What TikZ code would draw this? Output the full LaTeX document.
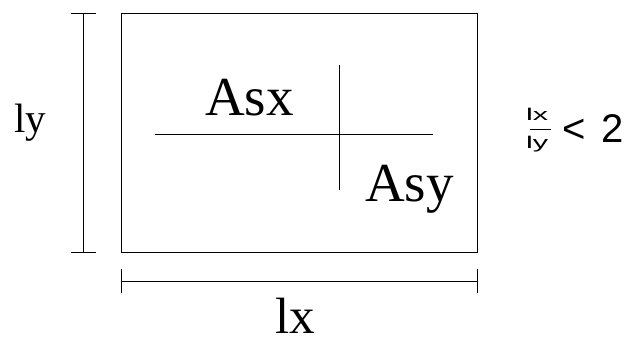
\documentclass[tikz,border=0pt]{standalone}
\usepackage{graphicx}
\usepackage{fontspec}
\setmainfont{Liberation Serif}
\newfontfamily\ratiofont{Liberation Sans}
\begin{document}
\begin{tikzpicture}[x=1pt,y=1pt,
  line/.style={draw=black,line width=0.8pt},
  lbl/.style={inner sep=0pt,anchor=base west},
  big/.style={lbl,font=\fontsize{55}{60}\selectfont},
  rat/.style={lbl,font=\ratiofont\fontsize{17}{20}\selectfont}]
\useasboundingbox (0,0) rectangle (630,339);
% slab
\coordinate (r1) at (121,326);
\coordinate (r2) at (477,87);
\draw[line] (r1) rectangle (r2);
% vertical dimension
\coordinate (vt) at (83,326);
\coordinate (vb) at (83,87);
\coordinate (vtl) at (71,326); \coordinate (vtr) at (96,326);
\coordinate (vbl) at (71,87);  \coordinate (vbr) at (96,87);
\draw[line] (vt) -- (vb);
\draw[line] (vtl) -- (vtr);
\draw[line] (vbl) -- (vbr);
% horizontal dimension
\coordinate (hl) at (121,58);
\coordinate (hr) at (477,58);
\coordinate (hlt) at (121,70); \coordinate (hlb) at (121,46);
\coordinate (hrt) at (477,70); \coordinate (hrb) at (477,46);
\draw[line] (hl) -- (hr);
\draw[line] (hlt) -- (hlb);
\draw[line] (hrt) -- (hrb);
% reinforcement cross
\coordinate (cl) at (155,205); \coordinate (cr) at (433,205);
\coordinate (ct) at (339,274); \coordinate (cb) at (339,149);
\draw[line] (cl) -- (cr);
\draw[line] (ct) -- (cb);
% labels
\node[big] (asx) at (205,223) {Asx};
\node[big] (asy) at (365,137) {Asy};
\node[lbl,font=\fontsize{41}{46}\selectfont] (ly) at (14,206) {ly};
\node[lbl,font=\fontsize{51}{56}\selectfont] (lx) at (275,5) {lx};
% ratio
\node[rat] (rx) at (526,218) {\scalebox{1.8}[1]{lx}};
\node[rat] (ry) at (526,190) {\scalebox{1.8}[1]{ly}};
\coordinate (fl) at (530,210); \coordinate (fr) at (551,210);
\draw[line,line width=0.7pt] (fl) -- (fr);
\node[lbl,font=\ratiofont\fontsize{40}{44}\selectfont] (lt) at (562,196) {<};
\node[lbl,font=\ratiofont\fontsize{40}{44}\selectfont] (two) at (601,196) {2};
\end{tikzpicture}
\end{document}
